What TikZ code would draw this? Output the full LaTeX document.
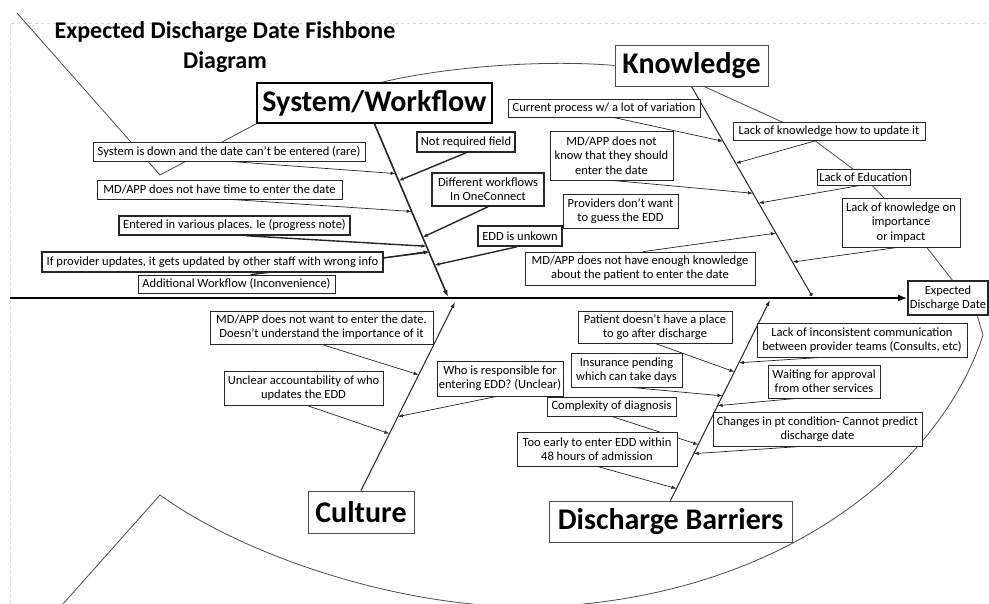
\documentclass[tikz,border=0pt]{standalone}
\usepackage{fontspec}
\setmainfont{Carlito}
\usetikzlibrary{arrows.meta,backgrounds,calc}
\tikzset{
  bx/.style={draw=black!85, line width=0.7pt, fill=white, align=center, inner sep=1pt,
    font=\fontsize{12.5}{14}\selectfont},
  tbx/.style={bx, line width=1.6pt},
  big/.style={draw=black!70, line width=0.8pt, fill=white, inner sep=2pt,
    font=\bfseries\fontsize{30}{32}\selectfont},
  bone/.style={line width=1pt, draw=black!85},
  ar/.style={line width=0.7pt, draw=black!85, -{Latex[length=5pt,width=3.5pt]}},
  outl/.style={line width=0.8pt, draw=black!70},
}
\begin{document}
\begin{tikzpicture}[x=1pt,y=-1pt]
\useasboundingbox (0,0) rectangle (989,604);

% title
\node[align=center, font=\bfseries\fontsize{24}{30}\selectfont] (title) at (225,47)
  {Expected Discharge Date Fishbone\\Diagram};

% category boxes
\node[big, draw=black, line width=1.8pt, minimum width=235, minimum height=40] (sw) at (374.5,103) {System/Workflow};
\node[big, minimum width=153, minimum height=41] (kn) at (691.5,65.5) {Knowledge};
\node[big, minimum width=106, minimum height=42] (cu) at (361,512) {Culture};
\node[big, minimum width=243, minimum height=41] (db) at (670.5,521.5) {Discharge Barriers};
\node[tbx, font=\fontsize{12.5}{14.5}\selectfont, minimum width=80, minimum height=34] (exp) at (948,298) {Expected\\Discharge Date};

% system / workflow causes
\node[bx, minimum width=272, minimum height=19] (sysdown) at (229,151.5) {System is down and the date can’t be entered (rare)};
\node[bx, minimum width=245, minimum height=19] (notime) at (219.5,189.5) {MD/APP does not have time to enter the date};
\node[tbx, minimum width=231, minimum height=19] (various) at (234.5,225.5) {Entered in various places. Ie (progress note)};
\node[tbx, minimum width=341, minimum height=20] (provupd) at (212.5,262) {If provider updates, it gets updated by other staff with wrong info};
\node[bx, minimum width=197, minimum height=18] (addwf) at (236.5,284) {Additional Workflow (Inconvenience)};
\node[tbx, minimum width=98, minimum height=20] (notreq) at (466,142) {Not required field};
\node[tbx, minimum width=112, minimum height=33] (diffwf) at (488,189.5) {Different workflows\\In OneConnect};
\node[tbx, minimum width=84, minimum height=20] (eddunk) at (520,236) {EDD is unkown};

% knowledge causes
\node[bx, minimum width=192, minimum height=18] (curproc) at (604,108) {Current process w/ a lot of variation};
\node[bx, minimum width=192, minimum height=18] (lackhow) at (829,131) {Lack of knowledge how to update it};
\node[bx, font=\fontsize{12.5}{14.5}\selectfont, minimum width=123, minimum height=49] (mdknow) at (611.5,155.5) {MD/APP does not\\know that they should\\enter the date};
\node[bx, minimum width=93, minimum height=16] (lackedu) at (863.5,177) {Lack of Education};
\node[bx, minimum width=115, minimum height=34] (provguess) at (620.5,211) {Providers don’t want\\to guess the EDD};
\node[bx, font=\fontsize{12.5}{14.5}\selectfont, minimum width=118, minimum height=49] (lackimp) at (901,222.5) {Lack of knowledge on\\importance\\or impact};
\node[bx, minimum width=230, minimum height=33] (mdenough) at (640,268.5) {MD/APP does not have enough knowledge\\about the patient to enter the date};

% culture causes
\node[bx, minimum width=223, minimum height=33] (mdwant) at (321.5,327.5) {MD/APP does not want to enter the date.\\Doesn’t understand the importance of it};
\node[bx, minimum width=159, minimum height=34] (unclear) at (303.5,388) {Unclear accountability of who\\updates the EDD};
\node[bx, minimum width=126, minimum height=35] (whoresp) at (500,378.5) {Who is responsible for\\entering EDD? (Unclear)};

% discharge barrier causes
\node[bx, minimum width=154, minimum height=32] (patient) at (655,327) {Patient doesn’t have a place\\to go after discharge};
\node[bx, minimum width=210, minimum height=34] (lackcomm) at (862,340) {Lack of inconsistent communication\\between provider teams (Consults, etc)};
\node[bx, minimum width=111, minimum height=34] (insur) at (626.5,370) {Insurance pending\\which can take days};
\node[bx, minimum width=112, minimum height=33] (waiting) at (824,381.5) {Waiting for approval\\from other services};
\node[bx, minimum width=129, minimum height=19] (complex) at (611.5,406.5) {Complexity of diagnosis};
\node[bx, minimum width=209, minimum height=34] (changes) at (817.5,429) {Changes in pt condition- Cannot predict\\discharge date};
\node[bx, minimum width=160, minimum height=34] (tooearly) at (597,449) {Too early to enter EDD within\\48 hours of admission};

% bone tips
\coordinate (spineStart) at (10,298);
\coordinate (swTip) at (448,297);
\coordinate (kTip) at (812,296);
\coordinate (cTip) at (455,302);
\coordinate (dTip) at (770,300);

\begin{pgfonlayer}{background}
\fill[white] (0,0) rectangle (989,604);
% frame
\draw[black!15, dashed, line width=0.5pt] (10,604) -- (10,23) -- (989,23);
% fish outline
\draw[outl] (17,13) -- (160,175) -- (sw.south west);
\draw[outl] ($(sw.north)+(8,0)$) .. controls (440,68) and (540,59) .. (kn.west);
\draw[outl] (703,86) -- (802,131) -- (865,178) -- (907,222) -- (953,281);
\draw[outl] (977,315) -- (983,335) .. controls (945,455) and (800,590) .. (560,606)
  .. controls (420,615) and (250,560) .. (160,495) -- (63,604);

% spine
\draw[line width=1.8pt, -{Latex[length=9pt,width=7pt]}] (spineStart) -- (exp.west);

% bones
\draw[bone, line width=1.6pt, -{Latex[length=7pt,width=5pt]}] (sw.south) -- (swTip);
\draw[bone, -{Circle[length=3.5pt]}] (kn.south) -- (kTip);
\draw[bone, -{Latex[length=6pt,width=4pt]}] (cu.north) -- (cTip);
\draw[bone, -{Latex[length=6pt,width=4pt]}] (db.north) -- (dTip);

% system/workflow arrows
\draw[ar] (sysdown.south) -- ($(sw.south)!0.287!(swTip)$);
\draw[ar, line width=1.4pt] (notreq.south) -- ($(sw.south)!0.328!(swTip)$);
\draw[ar] ($(notime.south)+(10,0)$) -- ($(sw.south)!0.506!(swTip)$);
\draw[ar, line width=1.4pt] (diffwf.south) -- ($(sw.south)!0.655!(swTip)$);
\draw[ar, line width=1.4pt] ($(various.south)+(12,0)$) -- ($(sw.south)!0.707!(swTip)$);
\draw[ar, line width=1pt] ($(provupd.east)+(0,-4)$) -- ($(sw.south)!0.736!(swTip)$);
\draw[ar, line width=1.4pt] ($(addwf.north)+(14,0)$) -- ($(sw.south)!0.741!(swTip)$);
\draw[ar, line width=1.4pt] ($(eddunk.south)+(-3,0)$) -- ($(sw.south)!0.816!(swTip)$);

% knowledge arrows
\draw[ar] ($(curproc.south)+(9,0)$) -- ($(kn.south)!0.262!(kTip)$);
\draw[ar] ($(lackhow.south)+(-12,0)$) -- ($(kn.south)!0.367!(kTip)$);
\draw[ar] (mdknow.south) -- ($(kn.south)!0.510!(kTip)$);
\draw[ar] ($(lackedu.south)+(-3,0)$) -- ($(kn.south)!0.557!(kTip)$);
\draw[ar] ($(mdenough.north)+(3,0)$) -- ($(kn.south)!0.700!(kTip)$);
\draw[ar] ($(lackimp.south)+(-3,0)$) -- ($(kn.south)!0.838!(kTip)$);

% culture arrows
\draw[ar] (mdwant.south) -- ($(cu.north)!0.614!(cTip)$);
\draw[ar] ($(whoresp.south)+(-3,0)$) -- ($(cu.north)!0.392!(cTip)$);
\draw[ar] ($(unclear.south)+(3,0)$) -- ($(cu.north)!0.302!(cTip)$);

% discharge barrier arrows
\draw[ar] (patient.south) -- ($(db.north)!0.642!(dTip)$);
\draw[ar] ($(lackcomm.south)+(-40,0)$) -- ($(db.north)!0.687!(dTip)$);
\draw[ar] ($(insur.south)+(4,0)$) -- ($(db.north)!0.522!(dTip)$);
\draw[ar] ($(waiting.south)+(-27,0)$) -- ($(db.north)!0.473!(dTip)$);
\draw[ar] (complex.south) -- ($(db.north)!0.279!(dTip)$);
\draw[ar] ($(changes.south)+(-15,0)$) -- ($(db.north)!0.234!(dTip)$);
\draw[ar] (tooearly.south) -- ($(db.north)!0.060!(dTip)$);
\end{pgfonlayer}
\end{tikzpicture}
\end{document}
